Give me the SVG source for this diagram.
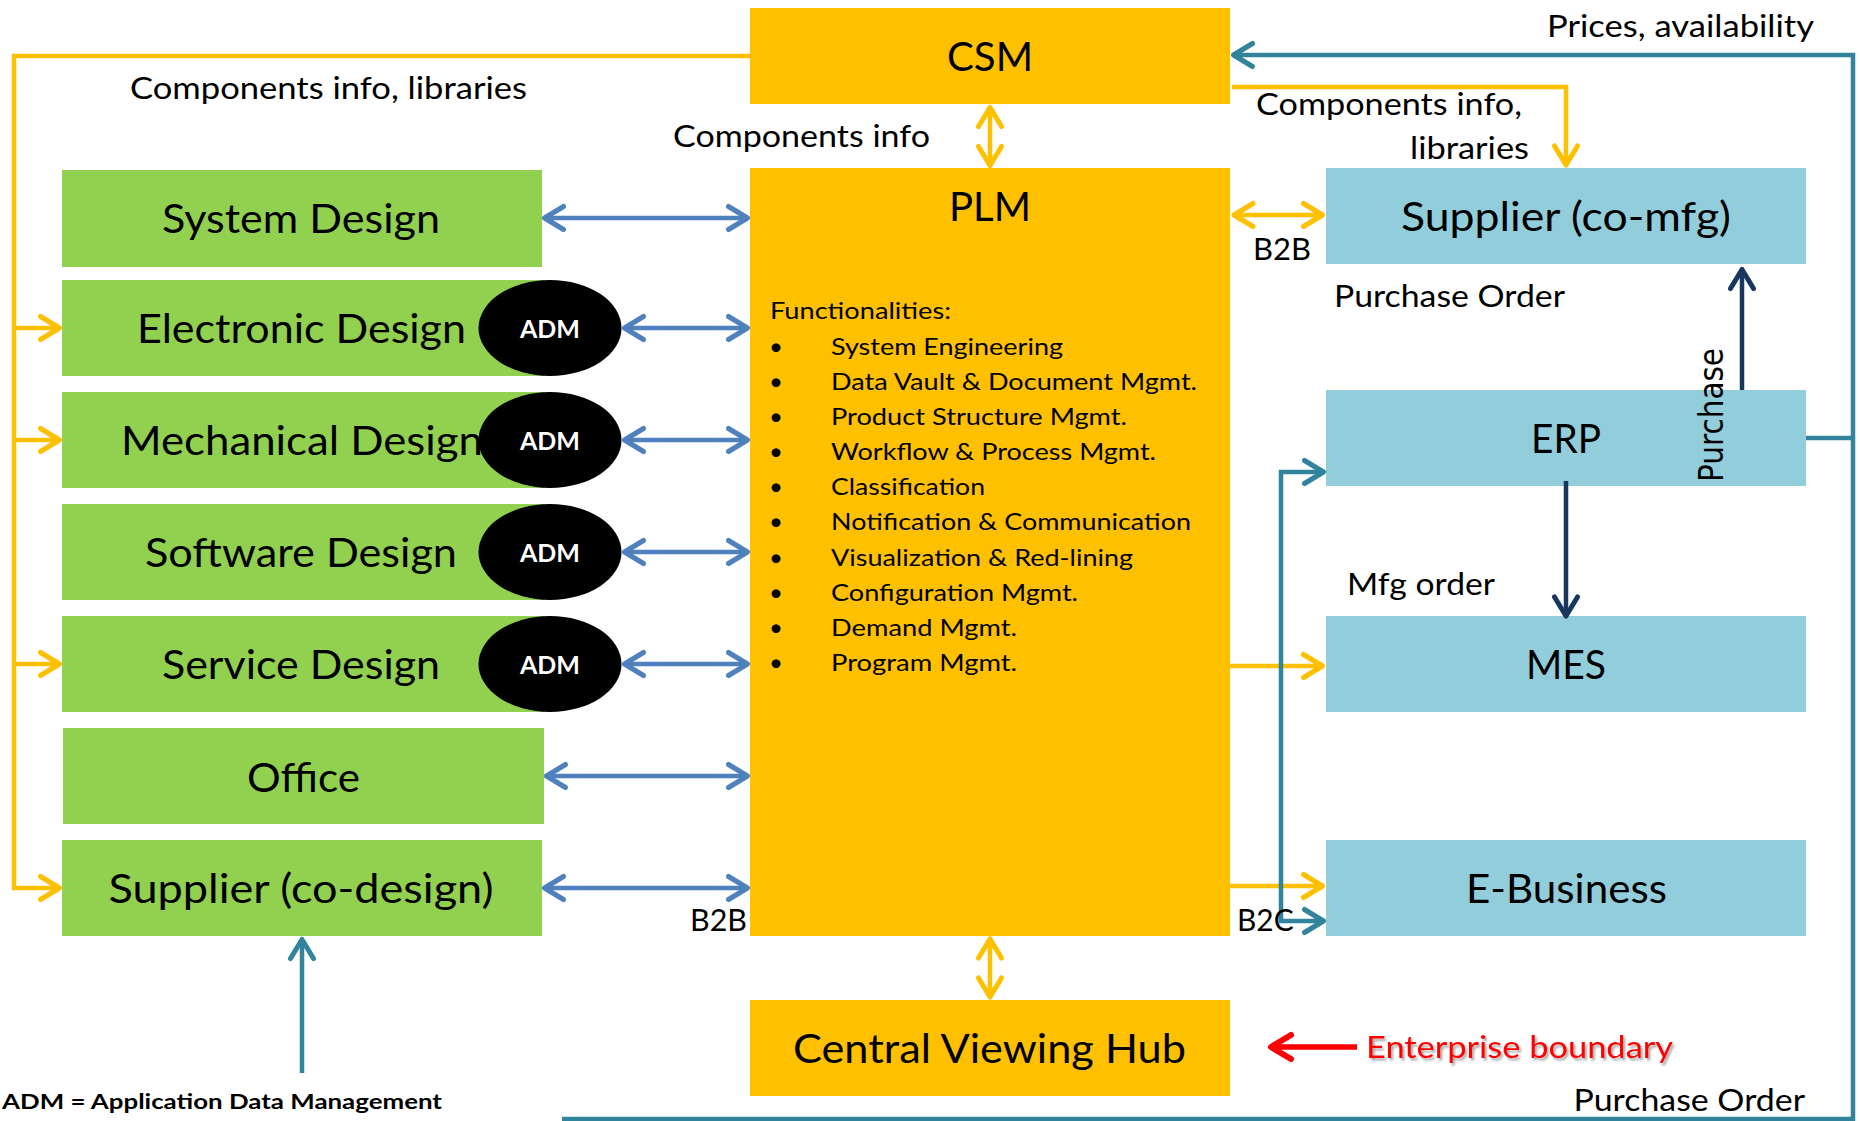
<svg xmlns="http://www.w3.org/2000/svg" width="1860" height="1121" viewBox="0 0 1860 1121">
<style>
  .t{font-family:Lato,"Liberation Sans",sans-serif;fill:#000;}
  .n{font-size:40px;}
  .l{font-size:30px;}
  .f{font-size:24px;}
  .adm{font-family:Lato,"Liberation Sans",sans-serif;font-weight:bold;font-size:24px;fill:#fff;}
  .green{fill:#92D050;}
  .orange{fill:#FFC000;}
  .blue{fill:#92CDDC;}
  .c{fill:none;stroke-width:4.5;}
  .cy{stroke:#FFC000;}
  .cb{stroke:#4F81BD;}
  .ct{stroke:#31849B;}
  .cn{stroke:#17375E;}
  .cr{stroke:#FF0000;stroke-width:5.5;}
</style>
<defs>
  <marker id="ay" markerUnits="userSpaceOnUse" viewBox="-26 -16 30 32" refX="0" refY="0" markerWidth="30" markerHeight="32" orient="auto-start-reverse"><path d="M-19,-11.5 L0,0 L-19,11.5" fill="none" stroke="#FFC000" stroke-width="5" stroke-linecap="round" stroke-linejoin="round"/></marker>
  <marker id="ab" markerUnits="userSpaceOnUse" viewBox="-26 -16 30 32" refX="0" refY="0" markerWidth="30" markerHeight="32" orient="auto-start-reverse"><path d="M-19,-11.5 L0,0 L-19,11.5" fill="none" stroke="#4F81BD" stroke-width="5" stroke-linecap="round" stroke-linejoin="round"/></marker>
  <marker id="at" markerUnits="userSpaceOnUse" viewBox="-26 -16 30 32" refX="0" refY="0" markerWidth="30" markerHeight="32" orient="auto-start-reverse"><path d="M-19,-11.5 L0,0 L-19,11.5" fill="none" stroke="#31849B" stroke-width="5" stroke-linecap="round" stroke-linejoin="round"/></marker>
  <marker id="an" markerUnits="userSpaceOnUse" viewBox="-26 -16 30 32" refX="0" refY="0" markerWidth="30" markerHeight="32" orient="auto-start-reverse"><path d="M-19,-11.5 L0,0 L-19,11.5" fill="none" stroke="#17375E" stroke-width="5" stroke-linecap="round" stroke-linejoin="round"/></marker>
  <marker id="ar" markerUnits="userSpaceOnUse" viewBox="-26 -16 30 32" refX="0" refY="0" markerWidth="30" markerHeight="32" orient="auto-start-reverse"><path d="M-20,-12 L0,0 L-20,12" fill="none" stroke="#FF0000" stroke-width="6" stroke-linecap="round" stroke-linejoin="round"/></marker>
  <filter id="sh" x="-5%" y="-20%" width="110%" height="150%"><feDropShadow dx="2" dy="2.5" stdDeviation="1.2" flood-color="#000" flood-opacity="0.35"/></filter>
</defs>
<rect width="1860" height="1121" fill="#fff"/>

<!-- Core nodes -->
<g id="csm"><rect class="orange" x="750" y="8" width="480" height="96"/><text class="t n" x="990" y="71" text-anchor="middle" textLength="86" lengthAdjust="spacingAndGlyphs">CSM</text></g>
<g id="plm"><rect class="orange" x="750" y="168" width="480" height="768"/>
  <text class="t n" x="990" y="221" text-anchor="middle" textLength="82" lengthAdjust="spacingAndGlyphs">PLM</text>
  <text class="t f" x="770" y="319.3" textLength="181" lengthAdjust="spacingAndGlyphs">Functionalities:</text>
  <g class="t f" text-anchor="middle">
    <text x="776" y="355">•</text><text x="776" y="390.1">•</text><text x="776" y="425.2">•</text><text x="776" y="460.2">•</text><text x="776" y="495.3">•</text><text x="776" y="530.4">•</text><text x="776" y="565.5">•</text><text x="776" y="600.6">•</text><text x="776" y="635.6">•</text><text x="776" y="670.7">•</text>
  </g>
  <g class="t f">
    <text x="831" y="355" textLength="232" lengthAdjust="spacingAndGlyphs">System Engineering</text>
    <text x="831" y="390.1" textLength="366" lengthAdjust="spacingAndGlyphs">Data Vault &amp; Document Mgmt.</text>
    <text x="831" y="425.2" textLength="296" lengthAdjust="spacingAndGlyphs">Product Structure Mgmt.</text>
    <text x="831" y="460.2" textLength="325" lengthAdjust="spacingAndGlyphs">Workflow &amp; Process Mgmt.</text>
    <text x="831" y="495.3" textLength="154" lengthAdjust="spacingAndGlyphs">Classification</text>
    <text x="831" y="530.4" textLength="360" lengthAdjust="spacingAndGlyphs">Notification &amp; Communication</text>
    <text x="831" y="565.5" textLength="302" lengthAdjust="spacingAndGlyphs">Visualization &amp; Red-lining</text>
    <text x="831" y="600.6" textLength="247" lengthAdjust="spacingAndGlyphs">Configuration Mgmt.</text>
    <text x="831" y="635.6" textLength="186" lengthAdjust="spacingAndGlyphs">Demand Mgmt.</text>
    <text x="831" y="670.7" textLength="186" lengthAdjust="spacingAndGlyphs">Program Mgmt.</text>
  </g>
</g>
<g id="hub"><rect class="orange" x="750" y="1000" width="480" height="96"/><text class="t n" x="793" y="1063" textLength="393" lengthAdjust="spacingAndGlyphs">Central Viewing Hub</text></g>

<!-- Left design nodes -->
<g id="system-design"><rect class="green" x="62" y="170" width="480" height="97"/><text class="t n" x="162" y="233" textLength="278" lengthAdjust="spacingAndGlyphs">System Design</text></g>
<g id="electronic-design"><rect class="green" x="62" y="280" width="482" height="96"/><text class="t n" x="137" y="343" textLength="329" lengthAdjust="spacingAndGlyphs">Electronic Design</text>
  <ellipse cx="550" cy="328" rx="71.5" ry="48"/><text class="adm" x="550" y="338" text-anchor="middle" textLength="60" lengthAdjust="spacingAndGlyphs">ADM</text></g>
<g id="mechanical-design"><rect class="green" x="62" y="392" width="482" height="96"/><text class="t n" x="121" y="455" textLength="362" lengthAdjust="spacingAndGlyphs">Mechanical Design</text>
  <ellipse cx="550" cy="440" rx="71.5" ry="48"/><text class="adm" x="550" y="450" text-anchor="middle" textLength="60" lengthAdjust="spacingAndGlyphs">ADM</text></g>
<g id="software-design"><rect class="green" x="62" y="504" width="482" height="96"/><text class="t n" x="145" y="567" textLength="312" lengthAdjust="spacingAndGlyphs">Software Design</text>
  <ellipse cx="550" cy="552" rx="71.5" ry="48"/><text class="adm" x="550" y="562" text-anchor="middle" textLength="60" lengthAdjust="spacingAndGlyphs">ADM</text></g>
<g id="service-design"><rect class="green" x="62" y="616" width="482" height="96"/><text class="t n" x="162" y="679" textLength="278" lengthAdjust="spacingAndGlyphs">Service Design</text>
  <ellipse cx="550" cy="664" rx="71.5" ry="48"/><text class="adm" x="550" y="674" text-anchor="middle" textLength="60" lengthAdjust="spacingAndGlyphs">ADM</text></g>
<g id="office"><rect class="green" x="63" y="728" width="481" height="96"/><text class="t n" x="247" y="791.5" textLength="113" lengthAdjust="spacingAndGlyphs">Office</text></g>
<g id="supplier-co-design"><rect class="green" x="62" y="840" width="480" height="96"/><text class="t n" x="108.5" y="903" textLength="385" lengthAdjust="spacingAndGlyphs">Supplier (co-design)</text></g>

<!-- Right nodes -->
<g id="supplier-co-mfg"><rect class="blue" x="1326" y="168" width="480" height="96"/><text class="t n" x="1401" y="231" textLength="330" lengthAdjust="spacingAndGlyphs">Supplier (co-mfg)</text></g>
<g id="erp"><rect class="blue" x="1326" y="390" width="480" height="96"/><text class="t n" x="1531" y="453" textLength="70" lengthAdjust="spacingAndGlyphs">ERP</text></g>
<g id="mes"><rect class="blue" x="1326" y="616" width="480" height="96"/><text class="t n" x="1526" y="679" textLength="80" lengthAdjust="spacingAndGlyphs">MES</text></g>
<g id="e-business"><rect class="blue" x="1326" y="840" width="480" height="96"/><text class="t n" x="1466" y="903" textLength="201" lengthAdjust="spacingAndGlyphs">E-Business</text></g>

<!-- Connectors -->
<g id="connectors">
  <!-- yellow -->
  <path class="c cy" d="M750,56 H14 V888 H59.5" marker-end="url(#ay)"/>
  <path class="c cy" d="M14,328 H59.5" marker-end="url(#ay)"/>
  <path class="c cy" d="M14,440 H59.5" marker-end="url(#ay)"/>
  <path class="c cy" d="M14,664 H59.5" marker-end="url(#ay)"/>
  <path class="c cy" d="M990,107.5 V165.5" marker-start="url(#ay)" marker-end="url(#ay)"/>
  <path class="c cy" d="M1232,87 H1566 V165" marker-end="url(#ay)"/>
  <path class="c cy" d="M1234,215 H1322.5" marker-start="url(#ay)" marker-end="url(#ay)"/>
  <path class="c cy" d="M1230,666 H1322.5" marker-end="url(#ay)"/>
  <path class="c cy" d="M1230,886 H1322.5" marker-end="url(#ay)"/>
  <path class="c cy" d="M990,939 V997" marker-start="url(#ay)" marker-end="url(#ay)"/>
  <!-- blue -->
  <path class="c cb" d="M544.5,218 H747.5" marker-start="url(#ab)" marker-end="url(#ab)"/>
  <path class="c cb" d="M624.5,328 H747.5" marker-start="url(#ab)" marker-end="url(#ab)"/>
  <path class="c cb" d="M624.5,440 H747.5" marker-start="url(#ab)" marker-end="url(#ab)"/>
  <path class="c cb" d="M624.5,552 H747.5" marker-start="url(#ab)" marker-end="url(#ab)"/>
  <path class="c cb" d="M624.5,664 H747.5" marker-start="url(#ab)" marker-end="url(#ab)"/>
  <path class="c cb" d="M546.5,776 H747.5" marker-start="url(#ab)" marker-end="url(#ab)"/>
  <path class="c cb" d="M544.5,888 H747.5" marker-start="url(#ab)" marker-end="url(#ab)"/>
  <!-- teal -->
  <path class="c ct" d="M562,1119 H1853 V55 H1233.5" marker-end="url(#at)"/>
  <path class="c ct" d="M1806,438 H1853"/>
  <path class="c ct" d="M1323.5,472 H1281 V921 H1323.5" marker-start="url(#at)" marker-end="url(#at)"/>
  <path class="c ct" d="M302,1073 V939.5" marker-end="url(#at)"/>
  <!-- navy -->
  <path class="c cn" d="M1742,390 V269.5" marker-end="url(#an)"/>
  <path class="c cn" d="M1566,481 V616" marker-end="url(#an)"/>
  <!-- red -->
  <path class="c cr" d="M1357,1047 H1271" marker-end="url(#ar)"/>
</g>

<!-- Connector labels -->
<g id="labels" class="t l">
  <text x="130" y="99" textLength="397" lengthAdjust="spacingAndGlyphs">Components info, libraries</text>
  <text x="673" y="147" textLength="257" lengthAdjust="spacingAndGlyphs">Components info</text>
  <text x="1256" y="115" textLength="266" lengthAdjust="spacingAndGlyphs">Components info,</text>
  <text x="1410" y="159" textLength="119" lengthAdjust="spacingAndGlyphs">libraries</text>
  <text x="1547" y="37" textLength="267" lengthAdjust="spacingAndGlyphs">Prices, availability</text>
  <text x="1253" y="259.5" textLength="58" lengthAdjust="spacingAndGlyphs">B2B</text>
  <text x="1334" y="307" textLength="231" lengthAdjust="spacingAndGlyphs">Purchase Order</text>
  <text x="1347" y="595" textLength="148" lengthAdjust="spacingAndGlyphs">Mfg order</text>
  <text x="690" y="930.7" textLength="57" lengthAdjust="spacingAndGlyphs">B2B</text>
  <text x="1237" y="930.7" textLength="56.6" lengthAdjust="spacingAndGlyphs">B2C</text>
  <text x="1573.5" y="1111" textLength="231.5" lengthAdjust="spacingAndGlyphs">Purchase Order</text>
  <text x="1366" y="1058" fill="#FF0000" style="fill:#FF0000" filter="url(#sh)" textLength="307" lengthAdjust="spacingAndGlyphs">Enterprise boundary</text>
  <text transform="translate(1723,482) rotate(-90)" style="font-family:'DejaVu Sans',Verdana,sans-serif;font-size:34px" textLength="134" lengthAdjust="spacingAndGlyphs">Purchase</text>
  <text x="2" y="1109.3" style="font-weight:bold;font-size:21.5px" textLength="440" lengthAdjust="spacingAndGlyphs">ADM = Application Data Management</text>
</g>
</svg>
